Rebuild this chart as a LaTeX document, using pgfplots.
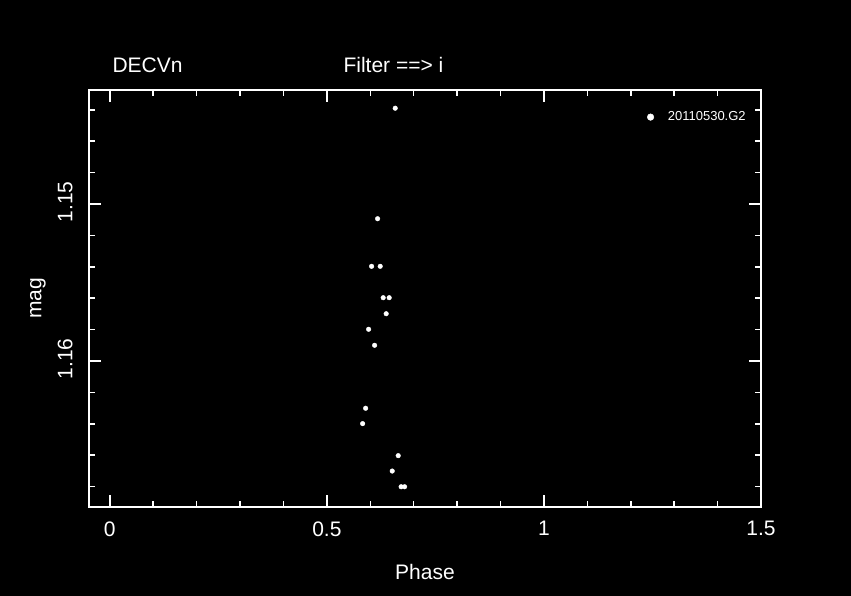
\documentclass[border=0pt]{standalone}
\usepackage{pgfplots}
\pgfplotsset{compat=1.18}
\usepackage{fontspec}
\setmainfont{Liberation Sans}

\begin{document}
\begin{tikzpicture}[x=1pt,y=1pt]
\fill[black] (0,0) rectangle (851,596);
\begin{axis}[
  at={(89pt,89pt)}, anchor=south west,
  scale only axis, width=672pt, height=417pt,
  xmin=-0.048, xmax=1.5,
  ymin=1.14274, ymax=1.1693, y dir=reverse,
  axis line style={white, line width=1.5pt},
  every tick/.style={white, line width=1.5pt},
  major tick length=12pt, minor tick length=6pt,
  xtick={0,0.5,1,1.5}, xticklabels={0,0.5,1,1.5},
  minor xtick={0.1,0.2,0.3,0.4,0.6,0.7,0.8,0.9,1.1,1.2,1.3,1.4},
  ytick={1.15,1.16}, yticklabels={1.15,1.16},
  minor ytick={1.144,1.146,1.148,1.152,1.154,1.156,1.158,1.162,1.164,1.166,1.168},
  tick label style={font=\fontsize{21}{24}\selectfont, text=white},
  xticklabel style={yshift=-11pt},
  yticklabel style={rotate=90, anchor=south, yshift=13pt, xshift=2pt},
  label style={font=\fontsize{21}{24}\selectfont, text=white},
  xlabel={Phase}, ylabel={mag},
  xlabel style={yshift=-21pt},
  ylabel style={yshift=5pt},
  legend style={at={(0.826,0.935)}, anchor=west, draw=none, fill=none,
    text=white, font=\fontsize{13}{15}\selectfont, column sep=12pt},
  legend image post style={mark size=3.3pt},
  legend cell align=left,
]
\addplot[only marks, mark=*, mark size=2.3pt, white] coordinates {
  (0.6574,1.14390) (0.6168,1.15094) (0.6030,1.15397) (0.6228,1.15397)
  (0.6297,1.15597) (0.6435,1.15597) (0.6366,1.15699) (0.5961,1.15798)
  (0.6099,1.15900) (0.5892,1.16301) (0.5823,1.16399) (0.6643,1.16603)
  (0.6505,1.16701) (0.6710,1.16801) (0.6790,1.16801)
};
\addlegendentry{20110530.G2}
\end{axis}
\node[anchor=base west, text=white, font=\fontsize{21}{24}\selectfont] at (109,523) {DECVn};
\node[anchor=base west, text=white, font=\fontsize{21}{24}\selectfont] at (340,523) {Filter ==> i};
\end{tikzpicture}
\end{document}
